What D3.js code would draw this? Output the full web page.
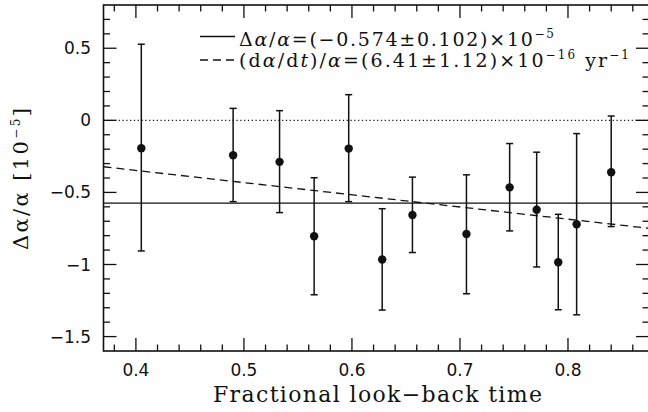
<!DOCTYPE html>
<html><head><meta charset="utf-8">
<script src="https://cdn.jsdelivr.net/npm/d3@7"></script>
<style>body{margin:0;background:#fff}svg{display:block}</style>
</head><body>
<script>
// Data
const lookback = [0.405, 0.490, 0.533, 0.565, 0.597, 0.628, 0.656, 0.706, 0.746, 0.771, 0.791, 0.808, 0.840];
const dAlpha   = [-0.194, -0.242, -0.288, -0.804, -0.196, -0.965, -0.657, -0.788, -0.465, -0.620, -0.984, -0.721, -0.360];
const errHigh  = [0.528, 0.083, 0.067, -0.398, 0.178, -0.613, -0.394, -0.378, -0.161, -0.221, -0.652, -0.092, 0.030];
const errLow   = [-0.906, -0.564, -0.640, -1.210, -0.564, -1.316, -0.917, -1.203, -0.767, -1.017, -1.314, -1.349, -0.737];
const meanValue = -0.574;
const trendX = [0.37, 0.875];
const trendY = [-0.322, -0.749];
const xMajor = [0.4, 0.5, 0.6, 0.7, 0.8];
const yMajor = [0.5, 0, -0.5, -1, -1.5];
const yLabels = ["0.5", "0", "\u22120.5", "\u22121", "\u22121.5"];
const xLabels = ["0.4", "0.5", "0.6", "0.7", "0.8"];

const W = 648, H = 412;
const svg = d3.select("body").append("svg").attr("width", W).attr("height", H);
const x = d3.scaleLinear().domain([0.37, 0.875]).range([103.5, 649]);
const y = d3.scaleLinear().domain([-1.6, 0.8]).range([351, 5]);
const [x0, x1] = x.range(), [yb, yt] = y.range();
const ink = "#111";

// minor ticks
const xMinor = d3.range(0.38, 0.875, 0.02).map(v => +v.toFixed(2));
const yMinor = d3.range(-1.6, 0.8001, 0.1).map(v => +v.toFixed(1));
const isMajorX = v => xMajor.some(m => Math.abs(m - v) < 1e-6);
const isMajorY = v => yMajor.some(m => Math.abs(m - v) < 1e-6);

const g = svg.append("g").attr("stroke", ink).attr("stroke-width", 1.3);
xMinor.forEach(v => {
  const L = isMajorX(v) ? 13 : 6.5;
  g.append("line").attr("x1", x(v)).attr("x2", x(v)).attr("y1", yb).attr("y2", yb - L);
  g.append("line").attr("x1", x(v)).attr("x2", x(v)).attr("y1", yt).attr("y2", yt + L);
});
yMinor.forEach(v => {
  if (v <= -1.6 || v >= 0.8) return;
  const L = isMajorY(v) ? 13 : 6.5;
  g.append("line").attr("x1", x0).attr("x2", x0 + L).attr("y1", y(v)).attr("y2", y(v));
  g.append("line").attr("x1", x1).attr("x2", x1 - L).attr("y1", y(v)).attr("y2", y(v));
});
svg.append("rect").attr("x", x0).attr("y", yt).attr("width", x1 - x0).attr("height", yb - yt)
  .attr("fill", "none").attr("stroke", ink).attr("stroke-width", 1.6);

// tick labels
svg.append("g").selectAll("text").data(xMajor).join("text")
  .attr("x", d => x(d)).attr("y", 376).attr("text-anchor", "middle")
  .attr("font-family", "DejaVu Sans").attr("font-size", 17).attr("fill", ink)
  .text((d, i) => xLabels[i]);
svg.append("g").selectAll("text").data(yMajor).join("text")
  .attr("x", 91).attr("y", d => y(d) + 6).attr("text-anchor", "end")
  .attr("font-family", "DejaVu Sans").attr("font-size", 17).attr("fill", ink)
  .text((d, i) => yLabels[i]);

// axis titles
svg.append("text").attr("x", 377.5).attr("y", 402).attr("text-anchor", "middle")
  .attr("font-family", "DejaVu Serif").attr("font-size", 22).attr("fill", ink)
  .attr("textLength", 329).attr("lengthAdjust", "spacing")
  .text("Fractional look\u2212back time");
const yt1 = svg.append("text").attr("transform", "translate(28,179) rotate(-90)")
  .attr("text-anchor", "middle").attr("font-family", "DejaVu Serif").attr("font-size", 21).attr("fill", ink)
  .attr("textLength", 142).attr("lengthAdjust", "spacing");
yt1.append("tspan").text("\u0394\u03b1/\u03b1  [10");
yt1.append("tspan").attr("font-size", 12).attr("dy", -8).text("\u22125");
yt1.append("tspan").attr("dy", 8).text("]");

// reference lines
svg.append("line").attr("x1", x0).attr("x2", x1).attr("y1", y(0)).attr("y2", y(0))
  .attr("stroke", ink).attr("stroke-width", 1.2).attr("stroke-dasharray", "1.2,2.6");
svg.append("line").attr("x1", x0).attr("x2", x1).attr("y1", y(meanValue)).attr("y2", y(meanValue))
  .attr("stroke", ink).attr("stroke-width", 1.4);
svg.append("line").attr("x1", x(trendX[0])).attr("x2", x(trendX[1]))
  .attr("y1", y(trendY[0])).attr("y2", y(trendY[1]))
  .attr("stroke", ink).attr("stroke-width", 1.3).attr("stroke-dasharray", "8,5");

// error bars & points
const pts = lookback.map((v, i) => ({ x: v, y: dAlpha[i], hi: errHigh[i], lo: errLow[i] }));
const eb = svg.append("g").attr("stroke", ink).attr("stroke-width", 1.5);
pts.forEach(p => {
  eb.append("line").attr("x1", x(p.x)).attr("x2", x(p.x)).attr("y1", y(p.hi)).attr("y2", y(p.lo));
  eb.append("line").attr("x1", x(p.x) - 3.5).attr("x2", x(p.x) + 3.5).attr("y1", y(p.hi)).attr("y2", y(p.hi));
  eb.append("line").attr("x1", x(p.x) - 3.5).attr("x2", x(p.x) + 3.5).attr("y1", y(p.lo)).attr("y2", y(p.lo));
});
svg.append("g").selectAll("circle").data(pts).join("circle")
  .attr("cx", d => x(d.x)).attr("cy", d => y(d.y)).attr("r", 4.2).attr("fill", ink);

// legend
const lg = svg.append("g");
lg.append("line").attr("x1", 200).attr("x2", 235).attr("y1", 36.5).attr("y2", 36.5)
  .attr("stroke", ink).attr("stroke-width", 1.3);
lg.append("line").attr("x1", 200).attr("x2", 235).attr("y1", 60).attr("y2", 60)
  .attr("stroke", ink).attr("stroke-width", 1.3).attr("stroke-dasharray", "8,5");
const t1 = lg.append("text").attr("x", 239).attr("y", 45.5)
  .attr("font-family", "DejaVu Serif").attr("font-size", 19).attr("fill", ink)
  .attr("textLength", 315).attr("lengthAdjust", "spacing");
t1.append("tspan").text("\u0394");
t1.append("tspan").attr("font-style", "italic").text("\u03b1");
t1.append("tspan").text("/");
t1.append("tspan").attr("font-style", "italic").text("\u03b1");
t1.append("tspan").text("=(\u22120.574\u00b10.102)\u00d710");
t1.append("tspan").attr("font-size", 12).attr("dy", -8).text("\u22125");
const t2 = lg.append("text").attr("x", 239).attr("y", 67)
  .attr("font-family", "DejaVu Serif").attr("font-size", 19).attr("fill", ink)
  .attr("textLength", 390).attr("lengthAdjust", "spacing");
t2.append("tspan").text("(d");
t2.append("tspan").attr("font-style", "italic").text("\u03b1");
t2.append("tspan").text("/d");
t2.append("tspan").attr("font-style", "italic").text("t");
t2.append("tspan").text(")/");
t2.append("tspan").attr("font-style", "italic").text("\u03b1");
t2.append("tspan").text("=(6.41\u00b11.12)\u00d710");
t2.append("tspan").attr("font-size", 12).attr("dy", -8).text("\u221216");
t2.append("tspan").attr("dy", 8).text("  yr");
t2.append("tspan").attr("font-size", 12).attr("dy", -8).text("\u22121");
</script>
</body></html>
